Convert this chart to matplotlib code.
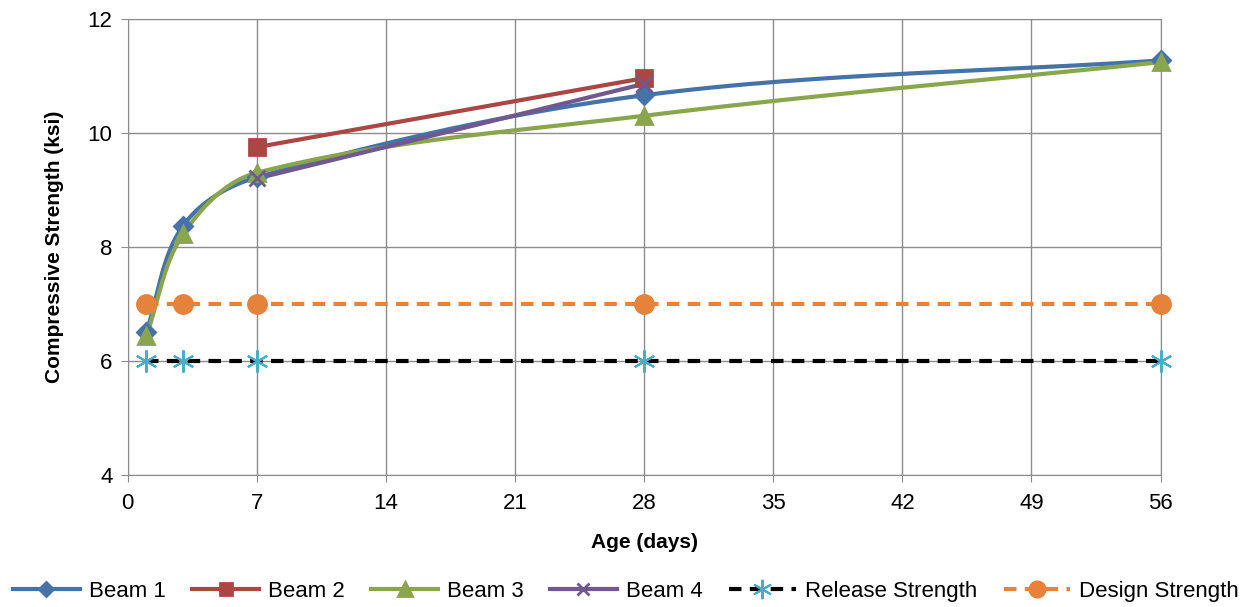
import numpy as np
import matplotlib
matplotlib.use("Agg")
import matplotlib.pyplot as plt

plt.rcParams['font.family'] = ['Liberation Sans Narrow', 'Liberation Sans', 'DejaVu Sans']

# data
age_b1 = [1, 3, 7, 28, 56]
beam1 = [6.5, 8.37, 9.22, 10.66, 11.27]
age_b2 = [7, 28]
beam2 = [9.75, 10.96]
age_b3 = [1, 3, 7, 28, 56]
beam3 = [6.43, 8.22, 9.3, 10.3, 11.24]
age_b4 = [7, 28]
beam4 = [9.2, 10.86]
age_ref = [1, 3, 7, 28, 56]
release = [6, 6, 6, 6, 6]
design = [7, 7, 7, 7, 7]

x_ticks = [0, 7, 14, 21, 28, 35, 42, 49, 56]
y_ticks = [4, 6, 8, 10, 12]


def smooth(xs, ys, sx=56.0 / 1033, sy=8.0 / 456, n=50):
    # excel-like smoothed line: bezier segments, tangent direction from neighbours,
    # handle length a third of the chord (worked out in pixel space)
    p = np.column_stack([np.array(xs) / sx, np.array(ys) / sy])
    if len(p) < 3:
        return np.array(xs, float), np.array(ys, float)
    tang = []
    for i in range(len(p)):
        a = p[max(i - 1, 0)]
        b = p[min(i + 1, len(p) - 1)]
        d = b - a
        tang.append(d / np.linalg.norm(d))
    out = []
    for i in range(len(p) - 1):
        p1, p2 = p[i], p[i + 1]
        L = np.linalg.norm(p2 - p1) / 3.0
        c1 = p1 + tang[i] * L
        c2 = p2 - tang[i + 1] * L
        t = np.linspace(0, 1, n)[:, None]
        seg = (1 - t) ** 3 * p1 + 3 * (1 - t) ** 2 * t * c1 + 3 * (1 - t) * t ** 2 * c2 + t ** 3 * p2
        out.append(seg if i == 0 else seg[1:])
    out = np.vstack(out)
    return out[:, 0] * sx, out[:, 1] * sy


fig = plt.figure(figsize=(12.52, 6.07), dpi=100)
ax = fig.add_axes([0.102, 0.2175, 0.825, 0.7515])

series = [
    (age_b1, beam1, 'Beam 1', '#4572A7', 'D', 9),
    (age_b2, beam2, 'Beam 2', '#AA4643', 's', 11),
    (age_b3, beam3, 'Beam 3', '#89A54E', '^', 12),
    (age_b4, beam4, 'Beam 4', '#71588F', 'x', 11),
]
for xs, ys, lab, col, mk, ms in series:
    sx_, sy_ = smooth(xs, ys)
    ax.plot(sx_, sy_, color=col, lw=3, solid_capstyle='round', zorder=3)
    ax.plot(xs, ys, ls='none', marker=mk, ms=ms, color=col, mec=col, mew=2, zorder=4, clip_on=False)
    ax.plot([], [], color=col, lw=3, marker=mk, ms=ms - 2, mew=2, label=lab)

ax.plot(age_ref, release, color='black', lw=3, ls=(0, (3, 2)), zorder=3)
ax.plot(age_ref, release, ls='none', marker=(6, 2, 0), ms=16, mew=1.5, color='#4BACC6', zorder=4, clip_on=False)
ax.plot([], [], color='black', lw=3, ls=(0, (3, 2)), marker=(6, 2, 0), ms=14, mew=1.5,
        mec='#4BACC6', label='Release Strength')

ax.plot(age_ref, design, color='#E6823A', lw=3, ls=(0, (3, 2)), zorder=3)
ax.plot(age_ref, design, ls='none', marker='o', ms=14, color='#E6823A', zorder=4, clip_on=False)
ax.plot([], [], color='#E6823A', lw=3, ls=(0, (3, 2)), marker='o', ms=12, label='Design Strength')

ax.set_xlim(0, 56)
ax.set_ylim(4, 12)
ax.set_xticks(x_ticks)
ax.set_yticks(y_ticks)
ax.grid(True, color='#8c8c8c', lw=1)
ax.set_axisbelow(True)
for s in ax.spines.values():
    s.set_color('#8c8c8c')
ax.tick_params(labelsize=16, length=5, color='#8c8c8c', direction='out')
ax.tick_params(axis='x', pad=8)
ax.tick_params(axis='y', pad=6)
ax.set_xlabel('Age (days)', fontsize=15, fontweight='bold', labelpad=14)
ax.set_ylabel('Compressive Strength (ksi)', fontsize=15, fontweight='bold', labelpad=17)

fig.legend(loc='lower center', bbox_to_anchor=(0.5, -0.025), ncol=6, frameon=False,
           fontsize=16, handlelength=3, columnspacing=1.2, handletextpad=0.4)

fig.savefig('out.png', dpi=100)
